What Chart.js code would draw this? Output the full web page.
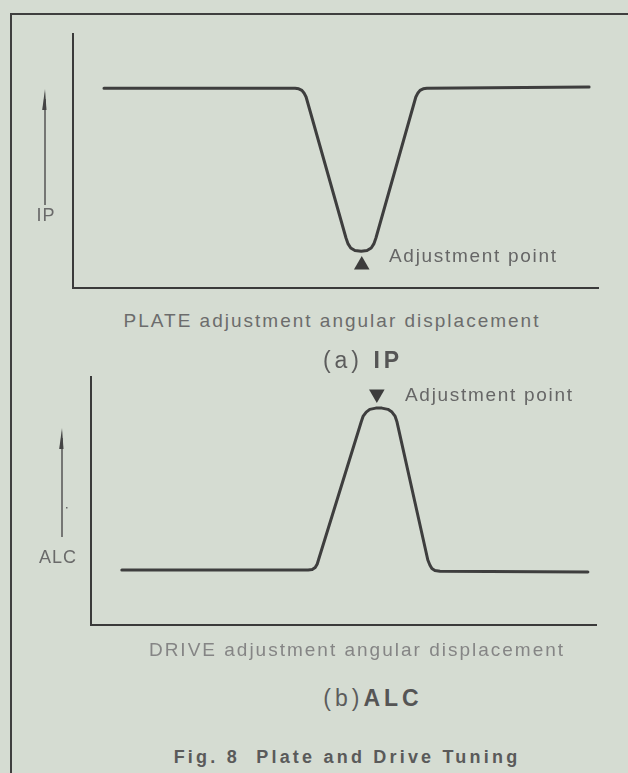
<!DOCTYPE html>
<html>
<head>
<meta charset="utf-8">
<script src="https://cdn.jsdelivr.net/npm/chart.js@4.4.1/dist/chart.umd.min.js"></script>
<style>
  html, body { margin: 0; padding: 0; }
  body { width: 628px; height: 773px; background: #d5dcd2; position: relative; overflow: hidden;
         font-family: "Liberation Sans", Arial, sans-serif; }
  .frameTop { position: absolute; left: 10px; top: 13px; width: 618px; height: 2px; background: #3f3f3f; }
  .frameLeft { position: absolute; left: 10px; top: 13px; width: 2px; height: 760px; background: #3f3f3f; }
  .plot { position: absolute; left: 0; width: 628px; height: 280px; }
  .t { position: absolute; white-space: pre; transform: translate(-50%, -50%); color: #6c6c6c; }
  .tl { position: absolute; white-space: pre; transform: translateY(-50%); color: #666; }
  .axisCap { font-size: 19px; letter-spacing: 2px; }
  .note { font-size: 19px; letter-spacing: 1.7px; }
  .sub { font-size: 23px; letter-spacing: 4px; color: #5c5c5c; }
  .sub b { font-weight: bold; color: #555; }
  .yl { font-size: 18px; letter-spacing: 1px; color: #6a6a6a; }
  .fig { font-size: 18px; font-weight: bold; letter-spacing: 3.2px; color: #5a5a5a; }
</style>
</head>
<body>
<div class="frameTop"></div>
<div class="frameLeft"></div>

<div class="plot" style="top:20px"><canvas id="chartIP"></canvas></div>
<div class="plot" style="top:360px"><canvas id="chartALC"></canvas></div>

<div class="t yl" style="left:46px; top:215px">IP</div>
<div class="t yl" style="left:58px; top:557px">ALC</div>

<div class="tl note" style="left:389px; top:256px">Adjustment point</div>
<div class="tl note" style="left:405px; top:395px">Adjustment point</div>

<div class="t axisCap" style="left:332px; top:321px">PLATE adjustment angular displacement</div>
<div class="t axisCap" style="left:357px; top:650px; color:#858585">DRIVE adjustment angular displacement</div>

<div class="t sub" style="left:363px; top:360px">(a) <b>IP</b></div>
<div class="t sub" style="left:373px; top:698px">(b)<b>ALC</b></div>

<div class="t fig" style="left:347px; top:757px">Fig. 8  Plate and Drive Tuning</div>

<script>
// IP curve versus PLATE displacement (relative units 0..100)
var ipX = [5.9, 42.3, 43.0, 43.6, 44.0, 44.4, 52.0, 52.4, 52.9, 53.7, 54.9, 56.0, 56.8, 57.3, 57.7, 65.3, 65.7, 66.1, 66.7, 67.4, 98.3];
var ipY = [78.3, 78.3, 78.1, 77.5, 76.5, 74.9, 19.6, 17.3, 15.7, 14.7, 14.4, 14.7, 15.7, 17.3, 19.6, 74.9, 76.5, 77.5, 78.1, 78.3, 78.8];
var ipMarkX = [55.0];
var ipMarkY = [9.0];

// ALC curve versus DRIVE displacement (relative units 0..100)
var alcX = [6.1, 43.0, 43.8, 44.4, 44.8, 45.1, 53.5, 53.9, 54.5, 55.2, 56.4, 57.6, 58.8, 59.6, 60.2, 60.6, 66.7, 67.1, 67.5, 68.1, 69.1, 98.4];
var alcY = [22.1, 22.1, 22.3, 23.1, 24.5, 26.5, 81.5, 83.9, 85.5, 86.6, 87.1, 87.1, 86.6, 85.5, 83.9, 81.5, 26.1, 24.1, 22.7, 21.9, 21.6, 21.3];
var alcMarkX = [56.6];
var alcMarkY = [92.8];

var lineColor = "#3e3e3e";

function toPoints(xs, ys) {
    var pts = [];
    for (var i = 0; i < xs.length; i++)
        pts.push({ x: xs[i], y: ys[i] });
    return pts;
}

// draws the L-shaped axes and the rising arrow left of the y axis
var axesPlugin = {
    id: 'axesPlugin',
    beforeDatasetsDraw: function (chart) {
        var a = chart.chartArea;
        var o = chart.options.plugins.axesPlugin;
        var ctx = chart.ctx;
        ctx.save();
        ctx.strokeStyle = "#3a3a3a";
        ctx.lineWidth = 2;
        ctx.beginPath();
        ctx.moveTo(a.left, a.top);
        ctx.lineTo(a.left, a.bottom);
        ctx.lineTo(o.xEnd, a.bottom);
        ctx.stroke();

        // arrow
        var ax = a.left - o.arrowGap;
        ctx.strokeStyle = "#555";
        ctx.lineWidth = 1.5;
        ctx.beginPath();
        ctx.moveTo(ax, o.arrowTop + 10);
        ctx.lineTo(ax, o.arrowBottom);
        ctx.stroke();
        ctx.fillStyle = "#444";
        ctx.beginPath();
        ctx.moveTo(ax, o.arrowTop);
        ctx.lineTo(ax - 2.8, o.arrowTop + 21);
        ctx.lineTo(ax + 1.5, o.arrowTop + 21);
        ctx.closePath();
        ctx.fill();
        if (o.dot) {
            ctx.fillStyle = "#666";
            ctx.fillRect(ax + 4, o.dot, 1.5, 1.5);
        }
        ctx.restore();
    }
};

function makeChart(id, xs, ys, mx, my, rot, pad, axesOpt) {
    return new Chart(document.getElementById(id), {
        type: 'line',
        data: {
            datasets: [
                {
                    data: toPoints(xs, ys),
                    borderColor: lineColor,
                    borderWidth: 3,
                    tension: 0,
                    pointRadius: 0,
                    borderJoinStyle: 'round',
                    borderCapStyle: 'round'
                },
                {
                    type: 'scatter',
                    data: toPoints(mx, my),
                    pointStyle: 'triangle',
                    rotation: rot,
                    pointRadius: 9,
                    backgroundColor: "#3c3c3c",
                    borderColor: "#3c3c3c",
                    borderWidth: 0
                }
            ]
        },
        options: {
            responsive: true,
            maintainAspectRatio: false,
            animation: false,
            events: [],
            layout: { padding: pad },
            plugins: {
                legend: { display: false },
                tooltip: { enabled: false },
                axesPlugin: axesOpt
            },
            scales: {
                x: { type: 'linear', min: 0, max: 100, display: false },
                y: { type: 'linear', min: 0, max: 100, display: false }
            }
        },
        plugins: [axesPlugin]
    });
}

// canvas top 20: chart area x 73..598, y 33..288
makeChart("chartIP", ipX, ipY, ipMarkX, ipMarkY, 0,
    { left: 73, right: 30, top: 13, bottom: 12 },
    { xEnd: 599, arrowGap: 28, arrowTop: 69, arrowBottom: 185 });

// canvas top 360: chart area x 91..596, y 376..625
makeChart("chartALC", alcX, alcY, alcMarkX, alcMarkY, 180,
    { left: 91, right: 32, top: 16, bottom: 15 },
    { xEnd: 597, arrowGap: 29, arrowTop: 68, arrowBottom: 177, dot: 147 });
</script>
</body>
</html>
